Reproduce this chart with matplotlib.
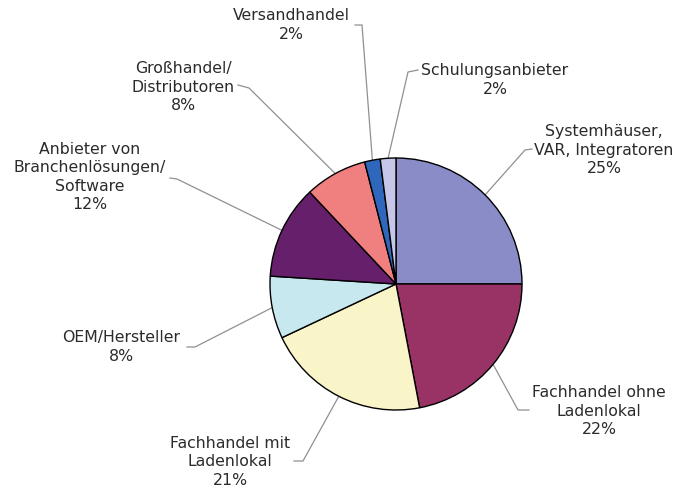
import numpy as np
import matplotlib.pyplot as plt

# data
categories = [
    "Systemhäuser,\nVAR, Integratoren",
    "Fachhandel ohne\nLadenlokal",
    "Fachhandel mit\nLadenlokal",
    "OEM/Hersteller",
    "Anbieter von\nBranchenlösungen/\nSoftware",
    "Großhandel/\nDistributoren",
    "Versandhandel",
    "Schulungsanbieter",
]
shares = [25, 22, 21, 8, 12, 8, 2, 2]
colors = ["#8a8cc8", "#993366", "#faf5c8", "#c8e8f0",
          "#66206b", "#f08080", "#2f67bd", "#c6c6e8"]

W, H = 681, 495
CX, CY, R = 396, 284, 126

# label layout in pixel coords (y from top): text centre, elbow, line end
label_pos = [
    ((604, 150), (525, 150), (532, 149)),
    ((599, 411), (518, 410), (529, 410)),
    ((230, 462), (303, 461), (294, 461)),
    ((121, 347), (195, 347), (187, 347)),
    ((90, 177), (177, 179), (170, 178)),
    ((183, 87), (249, 88), (238, 85)),
    ((291, 25), (362, 25), (355, 25)),
    ((495, 80), (408, 72), (418, 70)),
]


def px(p):
    return p[0], H - p[1]


fig = plt.figure(figsize=(W / 100, H / 100), dpi=100)
ax = fig.add_axes([0, 0, 1, 1])

wedges, _ = ax.pie(shares, colors=colors, startangle=90, counterclock=False,
                   center=(CX, H - CY), radius=R,
                   wedgeprops=dict(edgecolor="black", linewidth=1.0))

for w, name, val, (txt, elbow, end) in zip(wedges, categories, shares, label_pos):
    mid = np.deg2rad((w.theta1 + w.theta2) / 2)
    sx = CX + R * np.cos(mid)
    sy = (H - CY) + R * np.sin(mid)
    ex, ey = px(elbow)
    tx, ty = px(end)
    ax.plot([sx, ex, tx], [sy, ey, ty], color="#909090", lw=0.9, zorder=0)
    ax.text(*px(txt), f"{name}\n{val}%", ha="center", va="center",
            multialignment="center", fontsize=11.3, color="#2b2b2b",
            linespacing=1.28)

ax.set_xlim(0, W)
ax.set_ylim(0, H)
ax.set_aspect("equal")
ax.axis("off")

fig.savefig("out.png", dpi=100, facecolor="white")
